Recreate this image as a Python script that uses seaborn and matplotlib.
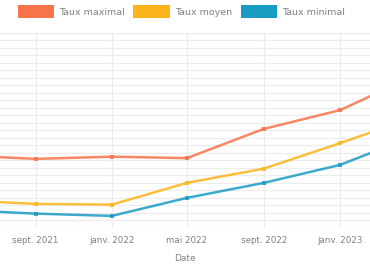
import matplotlib
matplotlib.use("Agg")
import matplotlib.pyplot as plt
import matplotlib.dates as mdates
from matplotlib.patches import Patch
import seaborn as sns
import pandas as pd
import numpy as np

dates = ["2021-05-01", "2021-09-01", "2022-01-01", "2022-05-01", "2022-09-01", "2023-01-01", "2023-05-01"]
taux_maximal = [1.57, 1.52, 1.55, 1.53, 1.92, 2.17, 2.63]
taux_moyen = [0.97, 0.92, 0.91, 1.20, 1.39, 1.73, 2.08]
taux_minimal = [0.84, 0.79, 0.76, 1.00, 1.20, 1.44, 1.83]
series_names = ["Taux maximal", "Taux moyen", "Taux minimal"]
colors = ["#f7734a", "#fbb41a", "#1a9bc2"]
tick_dates = ["2021-09-01", "2022-01-01", "2022-05-01", "2022-09-01", "2023-01-01"]
tick_labels = ["sept. 2021", "janv. 2022", "mai 2022", "sept. 2022", "janv. 2023"]

df = pd.DataFrame({
    "Date": pd.to_datetime(dates * 3),
    "Taux": taux_maximal + taux_moyen + taux_minimal,
    "Série": [series_names[0]] * len(dates) + [series_names[1]] * len(dates) + [series_names[2]] * len(dates),
})

sns.set_style("white")
fig = plt.figure(figsize=(3.7, 2.7), dpi=100)
ax = fig.add_axes([0.0, 0.156, 1.0, 0.722])

sns.lineplot(data=df, x="Date", y="Taux", hue="Série", palette=colors,
             linewidth=1.8, marker="s", markersize=3.5, markeredgewidth=0,
             alpha=0.85, legend=False, ax=ax)

ax.set_xlim(pd.Timestamp("2021-07-06"), pd.Timestamp("2023-02-18"))
ax.set_ylim(0.6, 3.2)
ax.set_yticks(np.arange(0.6, 3.21, 0.1))
ax.set_yticklabels([])
ax.tick_params(axis="y", length=0)
ax.set_xticks(pd.to_datetime(tick_dates))
ax.set_xticklabels(tick_labels, fontsize=6.3, color="#808080")
ax.tick_params(axis="x", length=0, pad=6)
ax.grid(True, color="#ececec", linewidth=0.8)
for s in ax.spines.values():
    s.set_visible(False)
ax.set_xlabel("Date", fontsize=6.5, color="#808080", labelpad=6)
ax.set_ylabel("")

handles = [Patch(facecolor=c, edgecolor="none") for c in colors]
fig.legend(handles, series_names, loc="upper center", bbox_to_anchor=(0.49, 1.0),
           ncol=3, frameon=False, fontsize=6.8, labelcolor="#808080",
           handlelength=3.9, handleheight=1.7, handletextpad=0.5, columnspacing=0.9,
           borderaxespad=0.15)

fig.savefig("out.png", dpi=100)
